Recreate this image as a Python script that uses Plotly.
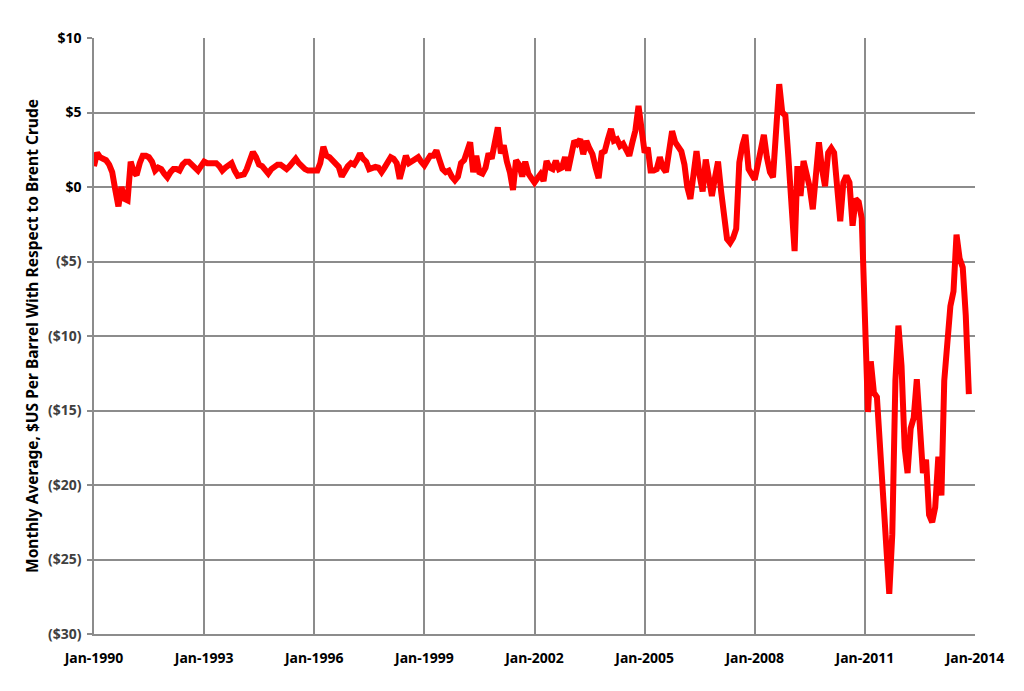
import pandas as pd
import plotly.graph_objects as go

# Monthly average WTI minus Brent, $US/bbl (Jan-1990 .. Nov-2013)
v1990 = [1.4, 2.3, 2.0, 1.9, 1.8, 1.5, 1.0, -0.2, -1.3, 0.0, -0.8, -0.9]
v1991 = [1.7, 1.0, 0.8, 1.6, 2.1, 2.1, 2.0, 1.7, 1.1, 1.3, 1.2, 0.9]
v1992 = [0.65, 1.0, 1.2, 1.2, 1.1, 1.5, 1.7, 1.7, 1.5, 1.3, 1.1, 1.4]
v1993 = [1.7, 1.6, 1.6, 1.5, 1.6, 1.4, 1.1, 1.3, 1.5, 1.6, 1.1, 0.75]
v1994 = [0.8, 0.85, 1.2, 1.8, 2.35, 2.0, 1.5, 1.4, 1.1, 0.9, 1.2, 1.4]
v1995 = [1.5, 1.5, 1.35, 1.2, 1.4, 1.6, 1.9, 1.6, 1.35, 1.2, 1.1, 1.05]
v1996 = [1.1, 1.1, 1.6, 2.7, 2.1, 2.0, 1.8, 1.5, 1.35, 0.7, 1.1, 1.4]
v1997 = [1.6, 1.5, 1.8, 2.25, 1.9, 1.7, 1.2, 1.3, 1.35, 1.3, 1.0, 1.3]
v1998 = [1.7, 2.0, 1.9, 1.6, 0.55, 1.3, 2.1, 1.6, 1.7, 1.8, 2.0, 1.7]
v1999 = [1.45, 1.8, 2.1, 2.1, 2.45, 1.8, 1.2, 1.0, 1.1, 0.7, 0.45, 0.7]
v2000 = [1.6, 1.8, 2.5, 3.0, 1.0, 2.1, 1.0, 0.9, 1.3, 2.25, 1.9, 2.9]
v2001 = [4.0, 2.25, 2.8, 1.7, 1.0, -0.2, 1.8, 1.5, 0.7, 1.7, 0.9, 0.6]
v2002 = [0.3, 0.6, 0.85, 0.4, 1.75, 1.3, 1.2, 1.75, 1.2, 1.3, 2.0, 1.1]
v2003 = [2.0, 3.1, 2.9, 3.2, 2.2, 3.1, 2.6, 2.2, 1.3, 0.6, 2.3, 2.4]
v2004 = [3.2, 3.9, 3.1, 3.2, 2.75, 2.9, 2.5, 2.1, 3.0, 3.8, 5.45, 3.4]
v2005 = [2.3, 2.65, 1.1, 1.1, 1.2, 2.0, 1.3, 1.0, 2.6, 3.75, 3.0, 2.65]
v2006 = [2.4, 1.5, 0.0, -0.8, 1.0, 2.4, 0.8, -0.3, 1.85, 0.5, -0.6, 0.6]
v2007 = [1.7, -0.3, -2.2, -3.5, -3.75, -3.4, -2.8, 1.65, 2.8, 3.5, 1.2, 0.75]
v2008 = [0.5, 1.5, 2.5, 3.5, 2.0, 1.0, 0.65, 3.8, 6.9, 5.0, 4.8, 2.0]
v2009 = [-1.5, -4.3, 1.4, -0.6, 1.75, 1.0, 0.0, -1.5, 1.5, 3.0, 1.2, 0.05]
v2010 = [2.3, 2.6, 2.3, -0.5, -2.3, 0.3, 0.75, 0.3, -2.6, -0.8, -1.0, -2.1]
v2011 = [-7.5, -15.1, -11.7, -13.8, -14.1, -17.5, -19.8, -24.0, -27.3, -23.3, -13.0, -9.3]
v2012 = [-12.0, -17.5, -19.2, -16.2, -15.5, -12.9, -16.5, -19.2, -18.3, -22.0, -22.5, -21.5]
v2013 = [-18.1, -20.7, -13.0, -10.0, -8.0, -7.0, -3.2, -4.8, -5.4, -8.6, -13.9]

values = (v1990 + v1991 + v1992 + v1993 + v1994 + v1995 + v1996 + v1997 + v1998
          + v1999 + v2000 + v2001 + v2002 + v2003 + v2004 + v2005 + v2006 + v2007
          + v2008 + v2009 + v2010 + v2011 + v2012 + v2013)
dates = pd.date_range("1990-01-01", periods=len(values), freq="MS")

x_tick_vals = ["1990-01-01", "1993-01-01", "1996-01-01", "1999-01-01", "2002-01-01",
               "2005-01-01", "2008-01-01", "2011-01-01", "2014-01-01"]
x_tick_text = ["Jan-1990", "Jan-1993", "Jan-1996", "Jan-1999", "Jan-2002",
               "Jan-2005", "Jan-2008", "Jan-2011", "Jan-2014"]
y_tick_vals = [10, 5, 0, -5, -10, -15, -20, -25, -30]
y_tick_text = ["$10", "$5", "$0", "($5)", "($10)", "($15)", "($20)", "($25)", "($30)"]

y_title = "Monthly Average, $US Per Barrel With Respect to Brent Crude"

fig = go.Figure()
fig.add_trace(go.Scatter(
    x=dates, y=values, mode="lines",
    line=dict(color="#FF0000", width=6),
    showlegend=False,
))

ytext = [("<span style='color:#404040'>%s</span>" % t) if v < 0 else t
         for v, t in zip(y_tick_vals, y_tick_text)]

fig.update_layout(
    width=1016, height=683,
    margin=dict(l=86, r=49, t=30, b=57),
    paper_bgcolor="white", plot_bgcolor="white",
    font=dict(family="Noto Sans", color="black"),
    xaxis=dict(
        range=["1990-01-01", "2014-01-01"],
        tickvals=x_tick_vals, ticktext=x_tick_text,
        tickfont=dict(size=14, family="Noto Sans", color="black", weight="bold"),
        showgrid=True, gridcolor="#8c8c8c", gridwidth=1.5,
        showline=True, linecolor="#8c8c8c", linewidth=1.5,
        ticks="", ticklabelstandoff=10,
        zeroline=False,
    ),
    yaxis=dict(
        range=[-30, 10],
        tickvals=y_tick_vals, ticktext=ytext,
        tickfont=dict(size=14, family="Noto Sans", color="black", weight="bold"),
        showgrid=True, gridcolor="#8c8c8c", gridwidth=1.5,
        showline=True, linecolor="#8c8c8c", linewidth=1.5,
        ticks="outside", ticklen=5, tickcolor="#8c8c8c", tickwidth=1.5,
        ticklabelstandoff=3,
        zeroline=False,
        title=dict(text=y_title, font=dict(size=15.5, family="Noto Sans", color="black", weight="bold"),
                   standoff=5),
    ),
)

fig.write_html("out.html")
